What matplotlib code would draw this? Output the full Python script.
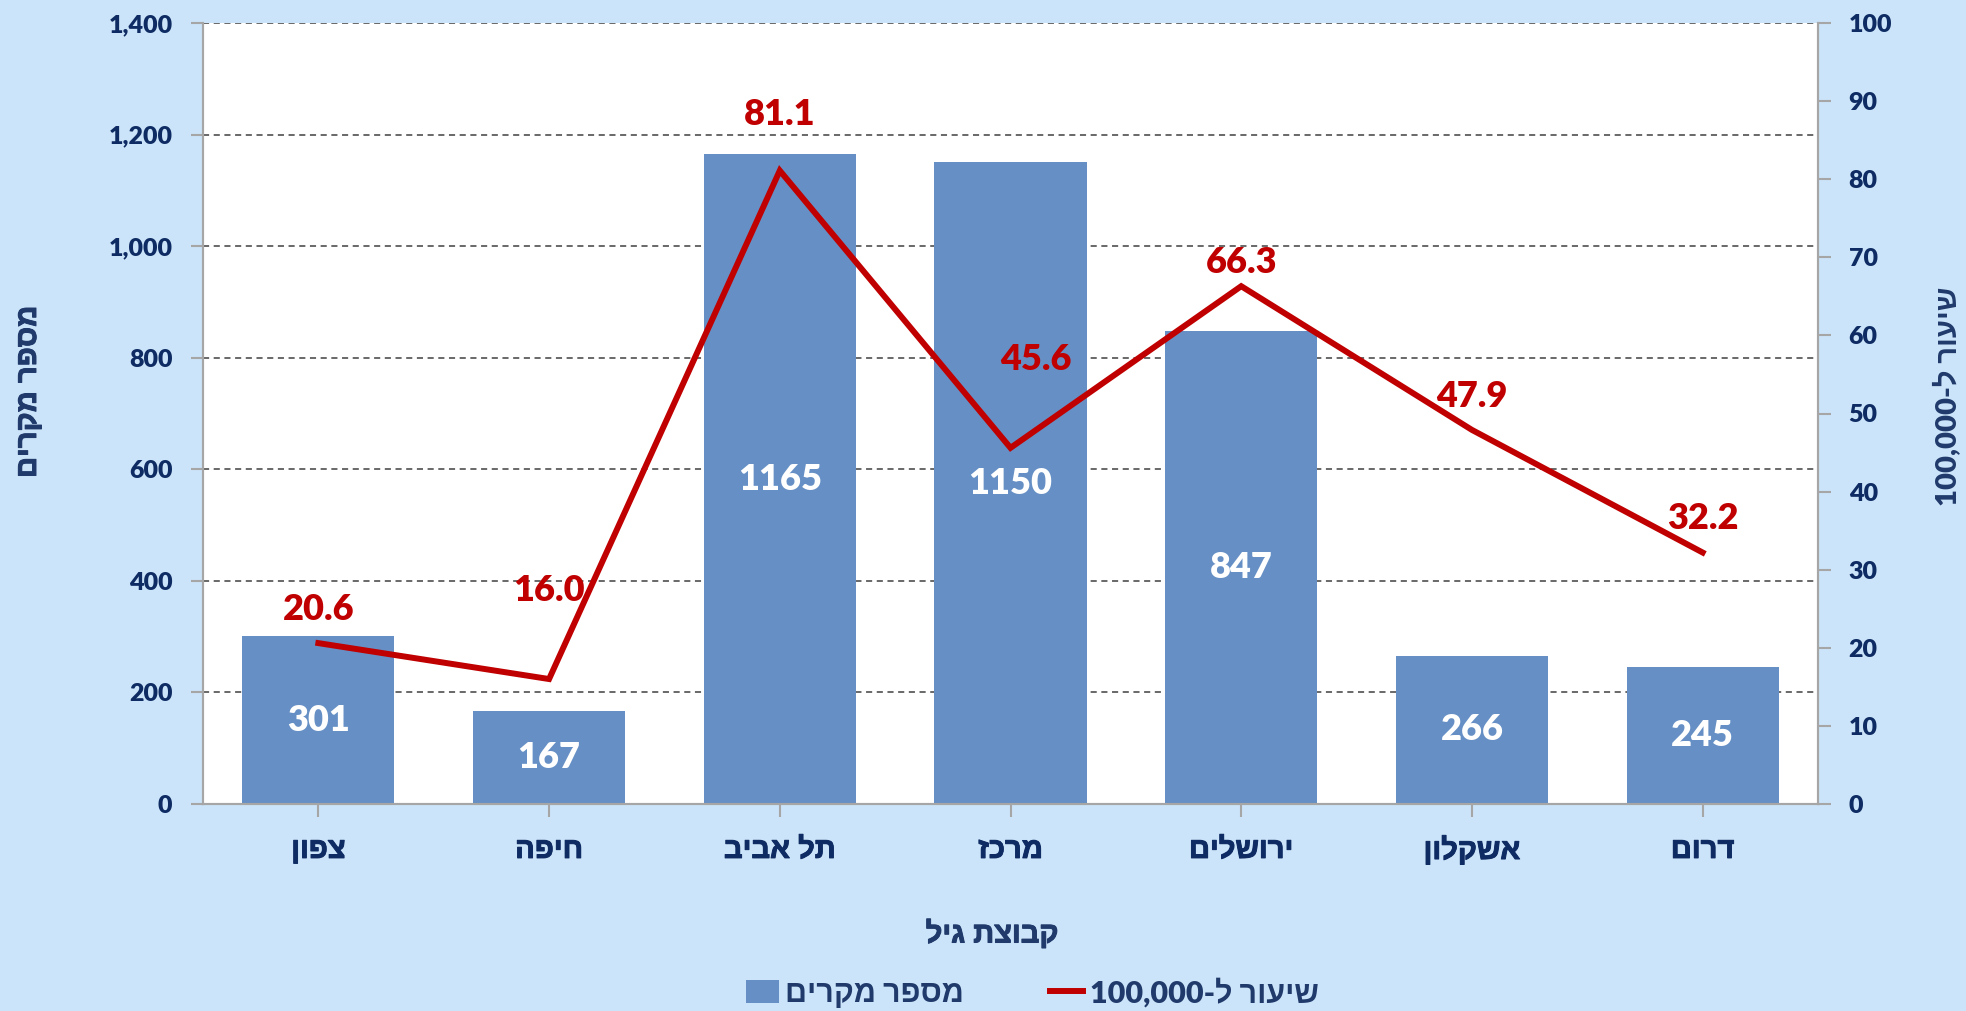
import re
import numpy as np
import matplotlib
matplotlib.use("Agg")
import matplotlib.pyplot as plt
import matplotlib.patheffects as pe
from matplotlib.ticker import FuncFormatter
from matplotlib.patches import Patch
from matplotlib.lines import Line2D

# ---------------- data ----------------
categories = ["צפון", "חיפה", "תל אביב", "מרכז", "ירושלים", "אשקלון", "דרום"]
cases = [301, 167, 1165, 1150, 847, 266, 245]
rate = [20.6, 16.0, 81.1, 45.6, 66.3, 47.9, 32.2]
left_label = "מספר מקרים"
right_label = "שיעור ל-100,000"
x_title = "קבוצת גיל"
bar_name = "מספר מקרים"
line_name = "שיעור ל-100,000"

# label offsets (pixels) for rate labels, as placed in the original
rate_label_dx = [0, 0, 0, 25, 0, 0, 0]
rate_label_dy = [34, 89, 56, 88, 24, 33, 34]


def vis(s):
    """Convert logical-order Hebrew into visual (LTR) order for matplotlib."""
    r = s[::-1]
    return re.sub(r"[0-9][0-9,.]*[0-9]|[0-9]", lambda m: m.group()[::-1], r)


BG = "#CCE4F9"
BAR = "#6690C5"
RED = "#C00000"
NAVY = "#0E2B63"
TITLE = "#1F3A6B"
FAM = ["Lato", "Liberation Sans", "DejaVu Sans"]
HEB = ["Liberation Sans", "DejaVu Sans"]
NUMW = "heavy"


def thick(color, w=0.7):
    return [pe.withStroke(linewidth=w, foreground=color)]


plt.rcParams["font.family"] = FAM
plt.rcParams["font.weight"] = "bold"

fig = plt.figure(figsize=(19.66, 10.11), dpi=100, facecolor=BG)
ax = fig.add_axes([203 / 1966, 1 - 804 / 1011, (1818 - 203) / 1966, (804 - 23) / 1011])
ax.set_facecolor("white")

x = np.arange(len(categories))
bars = ax.bar(x, cases, width=0.66, color=BAR, zorder=2)
ax.set_xlim(-0.5, len(categories) - 0.5)
ax.set_ylim(0, 1400)
ax.set_yticks(np.arange(0, 1401, 200))
ax.yaxis.set_major_formatter(FuncFormatter(lambda v, p: f"{int(v):,}"))
ax.set_axisbelow(True)
ax.yaxis.grid(True, linestyle=(0, (4, 3)), color="#404040", lw=1.1, zorder=0)

ax.set_xticks(x)
ax.set_xticklabels([vis(c) for c in categories], fontsize=21, color=NAVY,
                   fontweight="bold", family=HEB)
for t in ax.get_xticklabels():
    t.set_path_effects(thick(NAVY))

for sp in ["left", "bottom", "right"]:
    ax.spines[sp].set_color("#A6A6A6")
    ax.spines[sp].set_linewidth(1.5)
ax.spines["top"].set_visible(False)
ax.tick_params(axis="y", colors="#A6A6A6", labelcolor=NAVY, labelsize=18,
               length=9, width=1.5, pad=13)
ax.tick_params(axis="x", colors="#A6A6A6", labelcolor=NAVY, length=9,
               width=1.5, pad=14)
for t in ax.get_yticklabels():
    t.set_fontweight(NUMW)

for xi, v in zip(x, cases):
    ax.text(xi, v / 2, f"{v}", ha="center", va="center", color="white",
            fontsize=26, fontweight=NUMW)

ax2 = ax.twinx()
ax2.set_ylim(0, 100)
ax2.set_yticks(np.arange(0, 101, 10))
ax2.spines["top"].set_visible(False)
for sp in ["left", "bottom", "right"]:
    ax2.spines[sp].set_color("#A6A6A6")
    ax2.spines[sp].set_linewidth(1.5)
ax2.tick_params(axis="y", colors="#A6A6A6", labelcolor=NAVY, labelsize=18,
                length=9, width=1.5, pad=13)
for t in ax2.get_yticklabels():
    t.set_fontweight(NUMW)
ax2.plot(x, rate, color=RED, lw=4.3, zorder=3, solid_joinstyle="miter")

for xi, v, dx, dy in zip(x, rate, rate_label_dx, rate_label_dy):
    ax2.annotate(f"{v:.1f}", (xi, v), xytext=(dx * 0.72, dy * 0.72),
                 textcoords="offset points", ha="center", va="center",
                 color=RED, fontsize=26, fontweight=NUMW)

fig.text(28 / 1966, 1 - 392 / 1011, vis(left_label), rotation=90, ha="center",
         va="center", fontsize=21, color=TITLE, fontweight="bold", family=HEB,
         path_effects=thick(TITLE))
fig.text(1947 / 1966, 1 - 396 / 1011, vis(right_label), rotation=90, ha="center",
         va="center", fontsize=21, color=TITLE, fontweight=NUMW, family=FAM)
fig.text(992 / 1966, 1 - 934 / 1011, vis(x_title), ha="center",
         va="center", fontsize=21, color=TITLE, fontweight="bold", family=HEB,
         path_effects=thick(TITLE))

handles = [Patch(facecolor=BAR, edgecolor="none"),
           Line2D([0], [0], color=RED, lw=4.3)]
leg = fig.legend(handles, [vis(bar_name), vis(line_name)], loc="center",
                 bbox_to_anchor=(1032 / 1966, 1 - 993 / 1011), ncol=2,
                 frameon=False, handlelength=1.1, handleheight=0.8,
                 handletextpad=0.2, columnspacing=2.8,
                 prop={"family": FAM, "weight": NUMW, "size": 22})
for t in leg.get_texts():
    t.set_color(TITLE)

fig.savefig("out.png", dpi=100, facecolor=BG)
